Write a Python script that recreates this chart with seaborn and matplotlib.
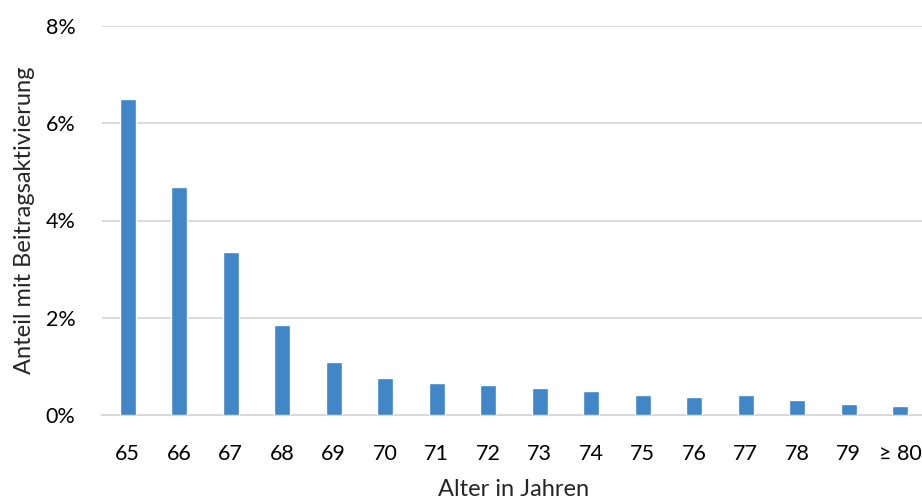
import matplotlib
matplotlib.use("Agg")
import matplotlib.pyplot as plt
import seaborn as sns
import pandas as pd
from matplotlib.ticker import FuncFormatter

# Share of people with contribution activation by age
ages = ["65", "66", "67", "68", "69", "70", "71", "72", "73", "74",
        "75", "76", "77", "78", "79", "≥ 80"]
share_pct = [6.50, 4.68, 3.36, 1.86, 1.09, 0.77, 0.66, 0.62, 0.56, 0.50,
             0.42, 0.38, 0.42, 0.30, 0.23, 0.19]
y_ticks = [0, 2, 4, 6, 8]

df = pd.DataFrame({"Alter": ages, "Anteil": share_pct})

sns.set_theme(style="white")
plt.rcParams["font.family"] = ["Lato", "DejaVu Sans"]

fig = plt.figure(figsize=(9.22, 5.03), dpi=100)
ax = fig.add_axes([102 / 922, 88 / 503, 824 / 922, 389 / 503])

sns.barplot(data=df, x="Alter", y="Anteil", color="#4186c6", width=0.31,
            saturation=1, ax=ax, zorder=3)

ax.set_ylim(0, 8)
ax.set_xlim(-0.5, len(ages) - 0.5)
ax.set_yticks(y_ticks)
ax.yaxis.set_major_formatter(FuncFormatter(lambda v, _: f"{v:.0f}%"))
ax.grid(axis="y", color="#d9d9d9", linewidth=1.3, zorder=0)
ax.grid(axis="x", visible=False)

for side in ["top", "right", "left"]:
    ax.spines[side].set_visible(False)
ax.spines["bottom"].set_color("#d9d9d9")
ax.spines["bottom"].set_linewidth(1.5)

ax.tick_params(axis="both", length=0, labelsize=15.5, colors="black")
ax.tick_params(axis="y", pad=19)
ax.tick_params(axis="x", pad=21)

ax.set_xlabel("Alter in Jahren", fontsize=17, labelpad=11)
ax.set_ylabel("Anteil mit Beitragsaktivierung", fontsize=17, labelpad=8)

fig.savefig("out.png", dpi=100)
